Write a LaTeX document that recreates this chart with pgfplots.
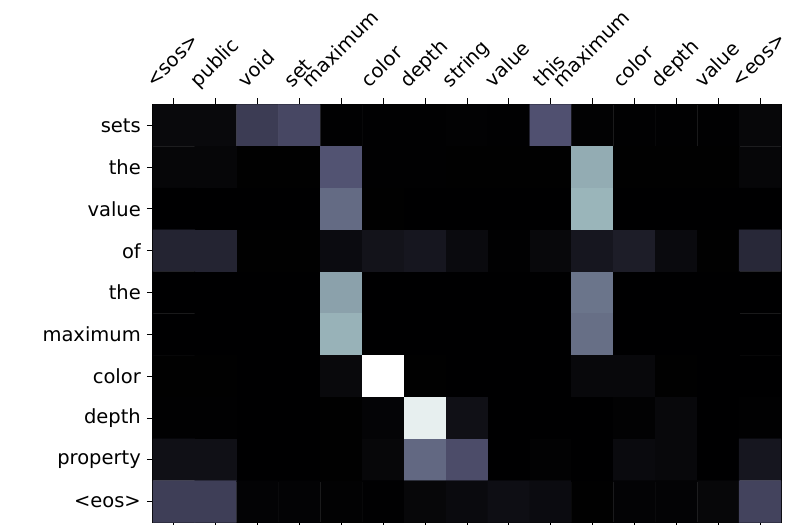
\documentclass[border=0pt]{standalone}
\usepackage{fontspec}
\setmainfont{DejaVu Sans}
\usepackage{graphicx}
\usepackage{pgfplots}
\pgfplotsset{compat=1.18}

% rotated top label, box sized like a full text line
\newcommand{\rl}[1]{\rotatebox{45}{\rule[-4.5bp]{0pt}{18bp}#1}}

\begin{document}
\begin{tikzpicture}
\begin{axis}[
  at={(0,0)}, anchor=south west,
  scale only axis,
  width=628bp, height=418bp,
  xmin=-0.5, xmax=14.5,
  ymin=-0.5, ymax=9.5,
  y dir=reverse,
  enlargelimits=false,
  axis line style={line width=1bp, black},
  colormap={bone}{rgb(0cm)=(0,0,0); rgb(0.365cm)=(0.319,0.319,0.444); rgb(0.746cm)=(0.653,0.778,0.778); rgb(1cm)=(1,1,1)},
  point meta min=0, point meta max=1,
  tick align=outside,
  major tick length=6bp,
  every tick/.style={black, line width=1bp},
  xtick pos=both,
  xticklabel pos=upper,
  ytick pos=left,
  xtick={0,...,14},
  ytick={0,...,9},
  xticklabels={\rl{<sos>},\rl{public},\rl{void},\rl{set},\rl{maximum},\rl{color},\rl{depth},\rl{string},\rl{value},\rl{this},\rl{maximum},\rl{color},\rl{depth},\rl{value},\rl{<eos>}},
  yticklabels={sets,the,value,of,the,maximum,color,depth,property,<eos>},
  tick label style={font=\fontsize{19.5bp}{23bp}\selectfont, inner sep=0pt},
  xticklabel style={anchor=south, yshift=7bp},
  yticklabel style={anchor=east, xshift=-6bp},
]
\addplot[matrix plot*, mesh/cols=15, mesh/rows=10, point meta=explicit] table[meta=c] {
x y c
0 0 0.04
1 0 0.04
2 0 0.27
3 0 0.32
4 0 0.005
5 0 0.005
6 0 0.005
7 0 0.01
8 0 0.005
9 0 0.36
10 0 0.01
11 0 0.005
12 0 0.005
13 0 0.005
14 0 0.03
0 1 0.025
1 1 0.025
2 1 0.003
3 1 0.003
4 1 0.37
5 1 0.005
6 1 0.005
7 1 0.003
8 1 0.003
9 1 0.003
10 1 0.66
11 1 0.003
12 1 0.003
13 1 0.003
14 1 0.025
0 2 0.002
1 2 0.002
2 2 0.002
3 2 0.002
4 2 0.45
5 2 0.003
6 2 0.002
7 2 0.002
8 2 0.002
9 2 0.002
10 2 0.69
11 2 0.002
12 2 0.002
13 2 0.002
14 2 0.002
0 3 0.16
1 3 0.16
2 3 0.003
3 3 0.003
4 3 0.05
5 3 0.085
6 3 0.1
7 3 0.045
8 3 0.005
9 3 0.035
10 3 0.1
11 3 0.13
12 3 0.045
13 3 0.003
14 3 0.18
0 4 0.002
1 4 0.002
2 4 0.002
3 4 0.002
4 4 0.625
5 4 0.002
6 4 0.002
7 4 0.002
8 4 0.002
9 4 0.002
10 4 0.48
11 4 0.002
12 4 0.002
13 4 0.002
14 4 0.002
0 5 0.002
1 5 0.002
2 5 0.002
3 5 0.002
4 5 0.68
5 5 0.002
6 5 0.002
7 5 0.002
8 5 0.002
9 5 0.002
10 5 0.46
11 5 0.002
12 5 0.002
13 5 0.002
14 5 0.002
0 6 0.003
1 6 0.003
2 6 0.002
3 6 0.002
4 6 0.04
5 6 1.0
6 6 0.003
7 6 0.002
8 6 0.002
9 6 0.002
10 6 0.035
11 6 0.035
12 6 0.003
13 6 0.002
14 6 0.002
0 7 0.005
1 7 0.005
2 7 0.002
3 7 0.002
4 7 0.003
5 7 0.02
6 7 0.93
7 7 0.07
8 7 0.002
9 7 0.002
10 7 0.002
11 7 0.01
12 7 0.035
13 7 0.002
14 7 0.005
0 8 0.07
1 8 0.07
2 8 0.002
3 8 0.002
4 8 0.003
5 8 0.03
6 8 0.44
7 8 0.34
8 8 0.002
9 8 0.01
10 8 0.002
11 8 0.045
12 8 0.035
13 8 0.002
14 8 0.1
0 9 0.28
1 9 0.28
2 9 0.015
3 9 0.015
4 9 0.01
5 9 0.005
6 9 0.03
7 9 0.045
8 9 0.065
9 9 0.05
10 9 0.003
11 9 0.015
12 9 0.015
13 9 0.03
14 9 0.3
};
\end{axis}
\pgfresetboundingbox
\useasboundingbox (-153bp,-2.5bp) rectangle (632bp,522.5bp);
\end{tikzpicture}
\end{document}
